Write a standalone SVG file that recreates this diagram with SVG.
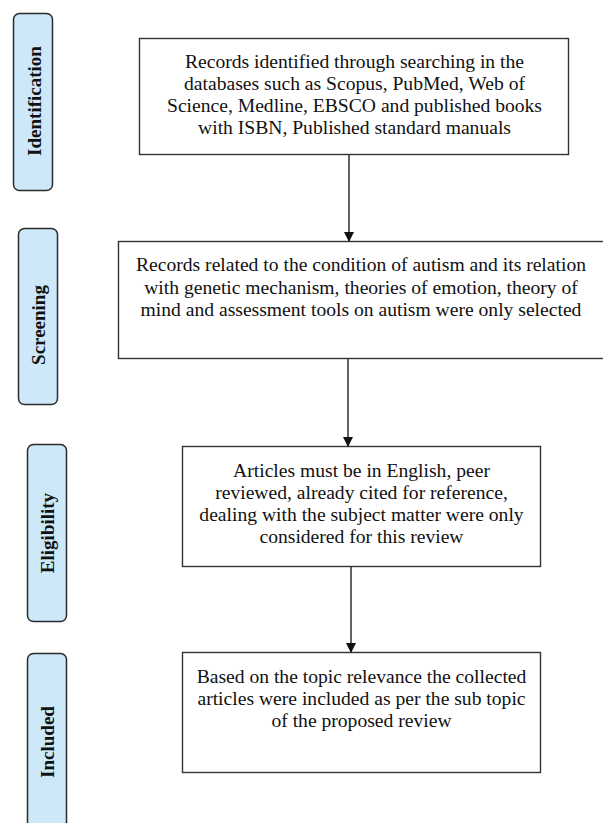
<svg xmlns="http://www.w3.org/2000/svg" width="603" height="823" viewBox="0 0 603 823">
<style>
.tag{fill:#cde9f9;stroke:#2b2b2b;stroke-width:1.5}
.box{fill:#fff;stroke:#333;stroke-width:1.4}
.lbl{font-family:"Liberation Serif","Times New Roman",serif;font-weight:bold;font-size:19px;fill:#111;text-anchor:middle;dominant-baseline:central}
.txt{font-family:"Liberation Serif","Times New Roman",serif;font-size:19.6px;fill:#111;text-anchor:middle}
.con{stroke:#222;stroke-width:1.4;fill:none;marker-end:url(#ah)}
</style>
<defs>
<marker id="ah" markerWidth="10" markerHeight="10" refX="9" refY="5" orient="auto" markerUnits="userSpaceOnUse">
<path d="M0,0 L10,5 L0,10 Z" fill="#111"/>
</marker>
</defs>
<rect width="603" height="823" fill="#fff"/>
<g id="tag-identification">
<rect class="tag" x="13.5" y="13.5" width="39" height="177" rx="6"/>
<text class="lbl" transform="translate(34,101) rotate(-90)">Identification</text>
</g>
<g id="tag-screening">
<rect class="tag" x="18.5" y="228.5" width="39" height="176" rx="6"/>
<text class="lbl" transform="translate(38,325) rotate(-90)">Screening</text>
</g>
<g id="tag-eligibility">
<rect class="tag" x="27.5" y="444.5" width="39" height="177" rx="6"/>
<text class="lbl" transform="translate(47,533) rotate(-90)">Eligibility</text>
</g>
<g id="tag-included">
<rect class="tag" x="27.5" y="653.5" width="39" height="190" rx="6"/>
<text class="lbl" transform="translate(47,742) rotate(-90)">Included</text>
</g>
<g id="box-identification">
<rect class="box" x="139.5" y="38.5" width="429" height="116"/>
<text class="txt" x="354.5" y="68">Records identified through searching in the</text>
<text class="txt" x="354.5" y="90">databases such as Scopus, PubMed, Web of</text>
<text class="txt" x="354.5" y="112">Science, Medline, EBSCO and published books</text>
<text class="txt" x="354.5" y="134">with ISBN, Published standard manuals</text>
</g>
<g id="box-screening">
<rect class="box" x="118.5" y="241.5" width="490" height="117"/>
<text class="txt" x="361" y="271">Records related to the condition of autism and its relation</text>
<text class="txt" x="361" y="293.5">with genetic mechanism, theories of emotion, theory of</text>
<text class="txt" x="361" y="316">mind and assessment tools on autism were only selected</text>
</g>
<g id="box-eligibility">
<rect class="box" x="182.5" y="446.5" width="358" height="120"/>
<text class="txt" x="361.5" y="477">Articles must be in English, peer</text>
<text class="txt" x="361.5" y="499">reviewed, already cited for reference,</text>
<text class="txt" x="361.5" y="521">dealing with the subject matter were only</text>
<text class="txt" x="361.5" y="543">considered for this review</text>
</g>
<g id="box-included">
<rect class="box" x="182.5" y="652.5" width="358" height="120"/>
<text class="txt" x="361.5" y="683">Based on the topic relevance the collected</text>
<text class="txt" x="361.5" y="705">articles were included as per the sub topic</text>
<text class="txt" x="361.5" y="727">of the proposed review</text>
</g>
<g id="connectors">
<line class="con" x1="349" y1="155" x2="349" y2="241"/>
<line class="con" x1="348" y1="359" x2="348" y2="446"/>
<line class="con" x1="351" y1="567" x2="351" y2="652"/>
</g>
</svg>
